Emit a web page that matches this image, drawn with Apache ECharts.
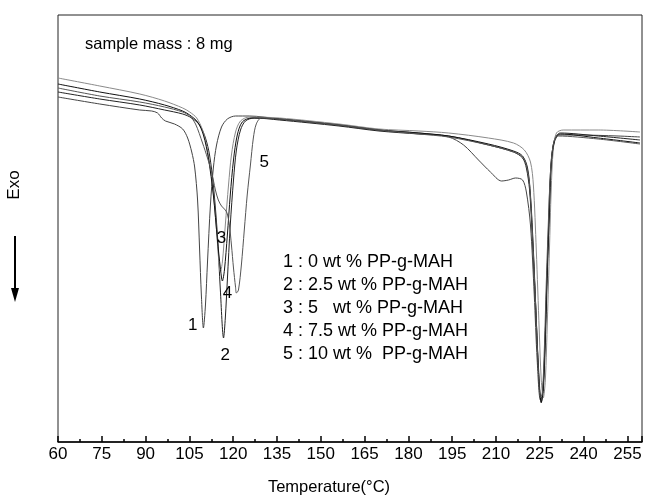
<!DOCTYPE html>
<html><head><meta charset="utf-8">
<script src="https://cdn.jsdelivr.net/npm/echarts@6/dist/echarts.min.js"></script>
<style>html,body{margin:0;padding:0;background:#fff}#c{width:645px;height:502px}</style>
</head><body><div id="c"></div>
<script>
// Temperature (°C) and heat flow (arbitrary units, exo down)
var c1T = [60,74.3,88.0,92.1,94.1,95.5,96.8,99.9,102.7,104.4,105.8,106.8,107.8,108.5,109.1,109.8,110.5,111.2,112.2,113.2,114.3,116.0,118.0,120.8,125.5,135.8,156.2,169.9,183.6,193.8,198.9,204.0,208.1,211.9,214.3,216.7,219.1,220.4,221.8,223.1,224.1,225.2,225.9,226.6,227.2,227.9,228.6,229.6,231.3,238.2,251.8,259.3];
var c1V = [345,338,332,331,329,324,321,318,313,304,290,275,242,192,147,114,137,180,237,274,297,315,323,326,326,323,317,312,309,305,297,282,270,261,262,264,262,250,217,147,82,42,47,82,142,207,267,297,307,307,306,305];

var c2T = [60,74.3,88.0,96.5,102.7,105.8,108.5,110.5,111.9,113.2,114.6,115.6,116.7,117.3,118.0,119.0,120.1,121.1,122.5,124.2,127.2,135.8,156.2,169.9,183.6,193.8,207.4,216.0,219.1,220.4,221.5,222.5,223.5,224.5,225.5,226.2,226.9,227.6,228.3,228.9,230.0,232.0,245.0,259.3];
var c2V = [350,343,337,332,328,324,317,304,287,257,207,152,104,124,162,217,262,292,312,321,324,322,316,311,308,306,297,290,284,274,252,202,142,77,39,57,112,177,232,277,302,309,306,302];

var c3T = [60,74.3,88.0,96.5,102.7,105.1,107.5,109.5,111.2,112.9,114.3,114.9,115.6,116.3,117.3,118.4,119.4,120.8,122.5,125.5,135.8,156.2,169.9,183.6,193.8,207.4,216.0,219.7,221.8,222.8,223.8,224.8,225.5,226.2,226.9,227.6,228.3,228.9,229.6,230.7,233.0,245.0,259.3];
var c3V = [364,356,348,341,334,330,324,312,292,257,212,187,170,180,217,257,287,310,321,325,324,318,313,311,309,304,299,292,280,257,192,112,62,44,62,122,192,252,292,309,312,312,310];

var c4T = [60,74.3,88.0,96.5,102.7,105.1,107.8,109.8,111.5,113.2,114.6,115.6,116.3,117.0,118.0,119.0,120.1,121.4,123.1,126.2,135.8,156.2,169.9,183.6,193.8,207.4,216.0,219.1,220.8,221.8,222.8,223.8,224.8,225.5,226.2,226.9,227.6,228.3,228.9,230.0,232.0,245.0,259.3];
var c4V = [358,350,343,337,331,327,320,307,284,247,202,174,161,172,207,247,282,307,320,324,323,317,312,309,306,298,291,286,274,247,192,122,57,40,52,102,172,232,277,300,308,304,299];

var c5T = [60,74.3,88.0,96.5,102.7,105.1,107.1,109.5,111.2,112.6,113.9,114.9,116.0,117.3,118.0,118.7,119.4,120.1,120.8,121.1,121.8,122.8,123.8,124.8,125.9,126.9,127.9,129.6,135.8,156.2,169.9,183.6,193.8,207.4,216.0,219.1,220.4,221.5,222.5,223.5,224.5,225.2,225.9,226.6,227.2,227.9,228.6,229.6,231.3,245.0,259.3];
var c5V = [354,346,340,335,330,326,318,299,284,270,252,242,236,232,228,217,197,174,155,149,152,177,212,247,277,304,318,324,323,317,312,308,305,297,290,285,277,257,207,142,72,44,50,97,157,217,267,297,306,303,298];

// curve number labels
var tagT = [106.1, 117.3, 116.0, 118.0, 130.6];
var tagV = [117, 87, 204, 149, 280];
var tagText = ['1', '2', '3', '4', '5'];

var xTicks = [60,75,90,105,120,135,150,165,180,195,210,225,240,255];
var legendLines = ['1 : 0 wt % PP-g-MAH','2 : 2.5 wt % PP-g-MAH','3 : 5   wt % PP-g-MAH','4 : 7.5 wt % PP-g-MAH','5 : 10 wt %  PP-g-MAH'];

function pairs(t, v){ return t.map(function(x,i){ return [x, v[i]]; }); }
var FONT = '"Liberation Sans", Arial, sans-serif';
var colors = ['#444444','#222222','#8a8a8a','#111111','#555555'];
var curves = [[c1T,c1V],[c2T,c2V],[c3T,c3V],[c4T,c4V],[c5T,c5V]];
var series = curves.map(function(c, i){
  return { type:'line', data:pairs(c[0], c[1]), showSymbol:false, smooth:0.3, silent:true,
           lineStyle:{color:colors[i], width:1}, z:2 };
});
series.push({ type:'scatter', symbolSize:0, silent:true, z:5,
  itemStyle:{ opacity:1 },
  data: tagT.map(function(t,i){ return {value:[t, tagV[i]], name:tagText[i]}; }),
  label:{ show:true, position:'inside', formatter:function(p){ return p.name; },
          color:'#000', opacity:1, fontSize:17, fontFamily:FONT } });

var graphics = [
  { type:'text', left:85, top:36, style:{ text:'sample mass : 8 mg', font:'16.5px '+FONT, fill:'#000' } },
  { type:'text', x:14, y:185, rotation:Math.PI/2, style:{ text:'Exo', font:'17px '+FONT, fill:'#000', align:'center', verticalAlign:'middle' } },
  { type:'line', shape:{x1:15, y1:236, x2:15, y2:290}, style:{ stroke:'#000', lineWidth:2 } },
  { type:'polygon', shape:{ points:[[11,288],[19,288],[15,302]] }, style:{ fill:'#000' } },
  { type:'text', x:329, y:487, style:{ text:'Temperature(°C)', font:'16.5px '+FONT, fill:'#000', align:'center', verticalAlign:'middle' } }
];
legendLines.forEach(function(s, i){
  graphics.push({ type:'text', left:283, top:253 + i*23, style:{ text:s, font:'18px '+FONT, fill:'#000' } });
});

var chart = echarts.init(document.getElementById('c'));
chart.setOption({
  animation:false,
  backgroundColor:'#fff',
  grid:{ left:58, right:3, top:15, bottom:60, show:true, borderColor:'#222', borderWidth:1 },
  xAxis:{ type:'value', min:60, max:260, interval:15,
    axisLine:{ show:true, lineStyle:{ color:'#000', width:1.5 } },
    axisTick:{ show:true, inside:true, length:6, lineStyle:{ color:'#000', width:1.5 } },
    minorTick:{ show:true, splitNumber:2, length:3, lineStyle:{ color:'#000', width:1.5 } },
    axisLabel:{ show:true, fontSize:17, fontFamily:FONT, color:'#000', margin:4, showMaxLabel:false,
      formatter:function(v){ return xTicks.indexOf(v) >= 0 ? String(v) : ''; } },
    splitLine:{ show:false } },
  yAxis:{ type:'value', min:0, max:427, show:true,
    axisLine:{ show:false }, axisTick:{ show:false }, axisLabel:{ show:false }, splitLine:{ show:false } },
  graphic: graphics,
  series: series
});
</script></body></html>
